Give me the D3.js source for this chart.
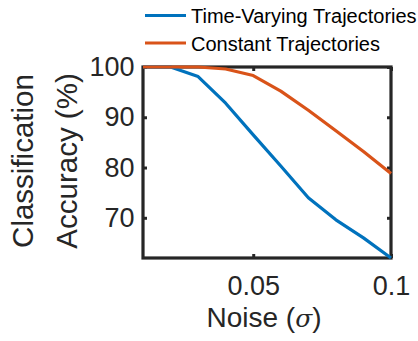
<!DOCTYPE html>
<html><head><meta charset="utf-8">
<script src="https://cdn.jsdelivr.net/npm/d3@7"></script>
<style>body{margin:0;background:#fff;}svg{display:block;font-family:"Liberation Sans",Arial,sans-serif;}</style>
</head><body><svg id="c" width="418" height="341"></svg>
<script>
const noise = [0.01,0.02,0.03,0.04,0.05,0.06,0.07,0.08,0.09,0.10];
const timeVarying = [100,100,98.1,92.8,86.5,80.3,74.0,69.6,66.0,62.0];
const constant = [100,100,100,99.6,98.3,95.2,91.4,87.3,83.2,78.8];
const seriesNames = ["Time-Varying Trajectories","Constant Trajectories"];
const xTicks = [0.05,0.1];
const xTickLabels = ["0.05","0.1"];
const yTicks = [70,80,90,100];

const colors = ["#0072BD","#D95319"];
const axisColor = "#262626";
const svg = d3.select("#c");
const L=143,R=391,T=67,B=258;
const x = d3.scaleLinear().domain([0.01,0.1]).range([L,R]);
const y = d3.scaleLinear().domain([62,100]).range([B,T]);

// axes box
const tl=4;
const gx = svg.append("g").attr("transform",`translate(0,${B})`)
  .call(d3.axisBottom(x).tickValues(xTicks).tickFormat((d,i)=>xTickLabels[i]).tickSizeInner(-tl).tickSizeOuter(0).tickPadding(18));
const gxt = svg.append("g").attr("transform",`translate(0,${T})`)
  .call(d3.axisTop(x).tickValues(xTicks).tickFormat("").tickSizeInner(-tl).tickSizeOuter(0));
const gy = svg.append("g").attr("transform",`translate(${L},0)`)
  .call(d3.axisLeft(y).tickValues(yTicks).tickSizeInner(-tl).tickSizeOuter(0).tickPadding(8.5));
const gyr = svg.append("g").attr("transform",`translate(${R},0)`)
  .call(d3.axisRight(y).tickValues(yTicks).tickFormat("").tickSizeInner(-tl).tickSizeOuter(0));
[gx,gxt,gy,gyr].forEach(g=>{
  g.select(".domain").remove();
  g.selectAll(".tick line").attr("stroke",axisColor).attr("stroke-width",3);
  g.selectAll(".tick text").attr("fill","#262626").style("font-size","27px").style("font-family","Liberation Sans, Arial, sans-serif");
});
svg.append("rect").attr("x",L).attr("y",T).attr("width",R-L).attr("height",B-T)
  .attr("fill","none").attr("stroke",axisColor).attr("stroke-width",3.2);

// lines (drawn over axes)
const line = d3.line().x((d,i)=>x(noise[i])).y(d=>y(d));
[timeVarying,constant].forEach((s,k)=>{
  svg.append("path").datum(s).attr("d",line).attr("fill","none")
    .attr("stroke",colors[k]).attr("stroke-width",3.2).attr("stroke-linejoin","round");
});

// x title
const xt = svg.append("text").attr("x",264).attr("y",327).attr("text-anchor","middle")
  .attr("fill","#262626").style("font-size","28px");
xt.append("tspan").text("Noise (");
xt.append("tspan").text("σ").style("font-family","DejaVu Serif, serif").style("font-style","italic").style("font-size","25px");
xt.append("tspan").text(")");

// y title
const yt = svg.append("text").attr("transform","translate(0,161) rotate(-90)").attr("text-anchor","middle")
  .attr("fill","#262626").style("font-size","29.5px");
yt.append("tspan").attr("x",0).attr("y",33).text("Classification");
yt.append("tspan").attr("x",0).attr("y",77).text("Accuracy (%)");

// legend
const lg = svg.append("g");
seriesNames.forEach((n,k)=>{
  const yy = 15.5 + k*27.5;
  lg.append("line").attr("x1",145).attr("x2",186).attr("y1",yy).attr("y2",yy).attr("stroke",colors[k]).attr("stroke-width",3.2);
  lg.append("text").attr("x",191).attr("y",yy+7.5).text(n).attr("fill","#000").style("font-size","20px");
});
</script></body></html>
